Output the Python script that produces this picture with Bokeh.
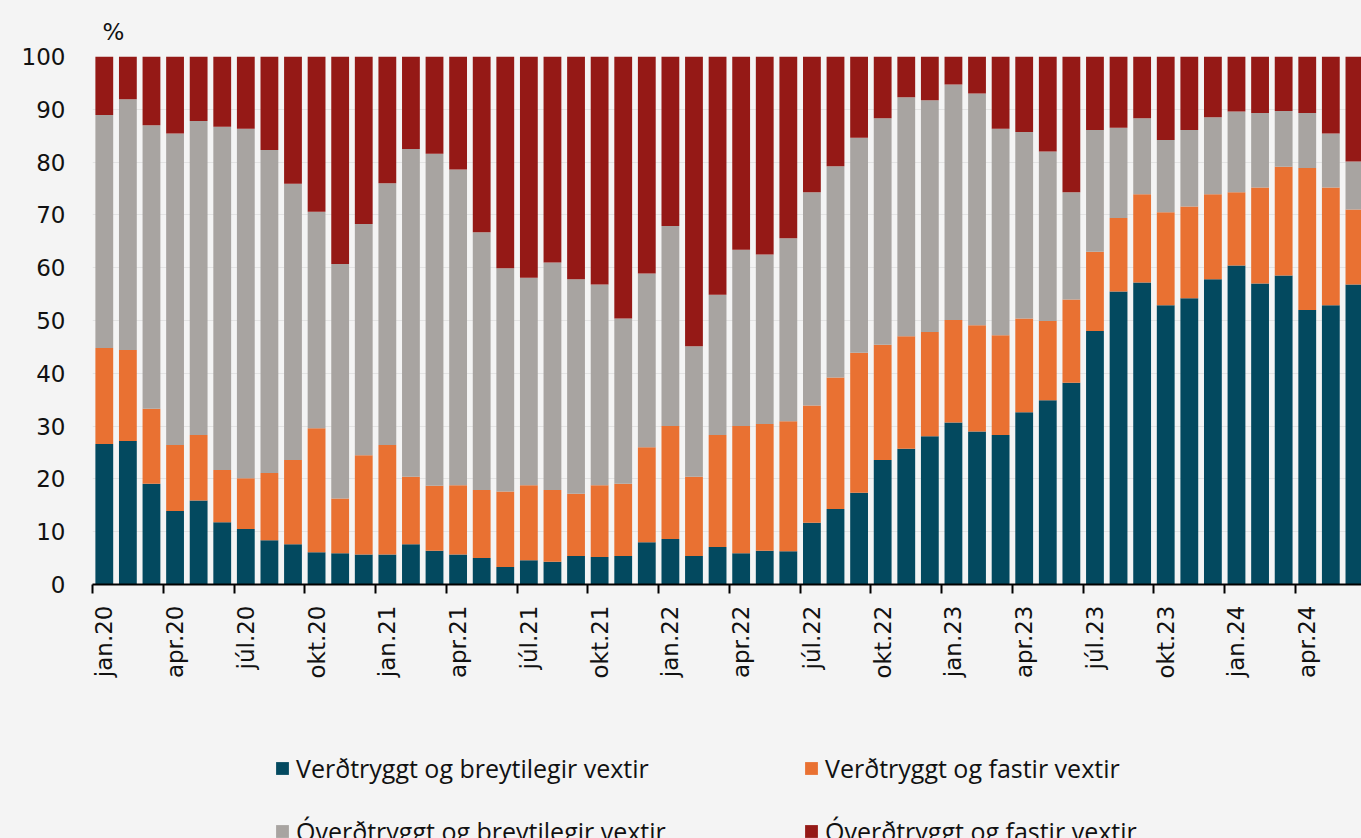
import math
import numpy as np
from bokeh.plotting import figure
from bokeh.layouts import column
from bokeh.models import ColumnDataSource, Range1d, FixedTicker, Legend, LegendItem
from bokeh.embed import file_html
from bokeh.resources import INLINE

# ---- data (percent shares, monthly jan.20 - jún.24) ----
month_names = ["jan", "feb", "mar", "apr", "maí", "jún", "júl", "ágú", "sep", "okt", "nóv", "des"]
months = [f"{month_names[i % 12]}.{20 + i // 12}" for i in range(54)]

verd_breyt = [26.6, 27.2, 19.1, 13.9, 15.9, 11.8, 10.5, 8.4, 7.6, 6.1, 5.9, 5.7,
              5.7, 7.6, 6.4, 5.7, 5.0, 3.3, 4.6, 4.3, 5.4, 5.2, 5.4, 8.0,
              8.6, 5.4, 7.1, 5.9, 6.4, 6.3, 11.7, 14.3, 17.4, 23.6, 25.7, 28.1,
              30.7, 29.0, 28.3, 32.6, 34.9, 38.2, 48.0, 55.5, 57.2, 52.9, 54.2, 57.8,
              60.4, 57.0, 58.5, 52.0, 52.9, 56.8]
verd_fast = [18.2, 17.2, 14.2, 12.5, 12.4, 9.9, 9.6, 12.7, 16.0, 23.5, 10.4, 18.8,
             20.7, 12.8, 12.3, 13.1, 12.9, 14.3, 14.2, 13.6, 11.8, 13.6, 13.7, 18.0,
             21.4, 15.0, 21.2, 24.1, 24.0, 24.6, 22.2, 24.9, 26.5, 21.8, 21.3, 19.7,
             19.4, 20.1, 18.9, 17.8, 15.0, 15.8, 15.0, 13.9, 16.7, 17.6, 17.4, 16.1,
             13.9, 18.2, 20.6, 26.9, 22.3, 14.2]
overd_breyt = [44.1, 47.5, 53.7, 59.0, 59.5, 65.0, 66.2, 61.2, 52.3, 41.0, 44.4, 43.8,
               49.6, 62.1, 62.9, 59.8, 48.8, 42.3, 39.3, 43.1, 40.6, 38.0, 31.3, 32.9,
               37.9, 24.7, 26.6, 33.4, 32.1, 34.7, 40.4, 40.0, 40.7, 42.9, 45.3, 43.9,
               44.6, 43.9, 39.1, 35.3, 32.1, 20.3, 23.1, 17.1, 14.4, 13.7, 14.5, 14.6,
               15.3, 14.1, 10.6, 10.4, 10.2, 9.1]
overd_fast = [11.1, 8.1, 13.0, 14.6, 12.2, 13.3, 13.7, 17.7, 24.1, 29.4, 39.3, 31.7,
              24.0, 17.5, 18.4, 21.4, 33.3, 40.1, 41.9, 39.0, 42.2, 43.2, 49.6, 41.1,
              32.1, 54.9, 45.1, 36.6, 37.5, 34.4, 25.7, 20.8, 15.4, 11.7, 7.7, 8.3,
              5.3, 7.0, 13.7, 14.3, 18.0, 25.7, 13.9, 13.5, 11.7, 15.8, 13.9, 11.5,
              10.4, 10.7, 10.3, 10.7, 14.6, 19.9]

series_names = ["Verðtryggt og breytilegir vextir", "Verðtryggt og fastir vextir",
                "Óverðtryggt og breytilegir vextir", "Óverðtryggt og fastir vextir"]
colors = ["#03495f", "#e97132", "#a8a4a1", "#951916"]

BG = "#f4f4f4"
FONT = "DejaVu Sans"
W = 1361
H_MAIN = 720
H_LEG = 118

src = ColumnDataSource(dict(x=list(range(len(months))), vb=verd_breyt, vf=verd_fast,
                            ob=overd_breyt, of=overd_fast))

p = figure(width=W, height=H_MAIN, output_backend="svg", toolbar_location=None,
           x_range=Range1d(-0.5, 53.3), y_range=Range1d(0, 100),
           min_border_left=92, min_border_right=0, min_border_top=56, min_border_bottom=136,
           background_fill_color=BG, border_fill_color=BG, outline_line_color=None)

p.vbar_stack(["vb", "vf", "ob", "of"], x="x", width=0.755, color=colors,
             line_color=None, source=src)

# title "%"
p.title.text = "%"
p.title.align = "left"
p.title.vertical_align = "top"
p.title.offset = 10
p.title.standoff = 20
p.title.text_font = FONT
p.title.text_font_size = "23px"
p.title.text_font_style = "normal"
p.title.text_color = "#111111"

# y axis
p.yaxis.ticker = FixedTicker(ticks=list(range(0, 101, 10)))
p.yaxis.axis_line_color = None
p.yaxis.major_tick_line_color = None
p.yaxis.minor_tick_line_color = None
p.yaxis.major_tick_out = 0
p.yaxis.major_tick_in = 0
p.yaxis.major_label_standoff = 27
p.yaxis.major_label_text_font = FONT
p.yaxis.major_label_text_font_size = "23px"
p.yaxis.major_label_text_color = "#111111"

# x axis
label_pos = list(range(0, len(months), 3))
p.xaxis.ticker = FixedTicker(ticks=label_pos, minor_ticks=[t - 0.5 for t in label_pos])
p.xaxis.major_label_overrides = {i: months[i] for i in label_pos}
p.xaxis.major_label_orientation = math.pi / 2
p.xaxis.major_tick_out = 0
p.xaxis.major_tick_in = 0
p.xaxis.minor_tick_out = 9
p.xaxis.minor_tick_in = 0
p.xaxis.minor_tick_line_color = "#000000"
p.xaxis.minor_tick_line_width = 2
p.xaxis.axis_line_color = "#000000"
p.xaxis.axis_line_width = 2
p.xaxis.major_label_standoff = 12
p.xaxis.major_label_text_font = FONT
p.xaxis.major_label_text_font_size = "23px"
p.xaxis.major_label_text_color = "#111111"

p.xgrid.visible = False
p.ygrid.grid_line_color = "#e3e3e3"
p.ygrid.grid_line_width = 1

# legend panel (separate figure under the chart; keys are hidden helper glyphs in the bar colours)
q = figure(width=W, height=H_LEG, output_backend="svg", toolbar_location=None,
           x_range=Range1d(0, W), y_range=Range1d(0, H_LEG),
           x_axis_type=None, y_axis_type=None,
           min_border_left=0, min_border_right=0, min_border_top=0, min_border_bottom=0,
           background_fill_color=BG, border_fill_color=BG, outline_line_color=None)
q.xgrid.visible = False
q.ygrid.visible = False
keys = [q.vbar(x=np.array([np.nan]), top=np.array([np.nan]), width=1, color=c, line_color=None)
        for c in colors]

def make_legend(idx, vy):
    return Legend(items=[LegendItem(label=series_names[i], renderers=[keys[i]]) for i in idx],
                  orientation="horizontal", location=(182, vy),
                  glyph_width=16, glyph_height=16, label_standoff=6,
                  label_width=470, spacing=37, padding=0, margin=0,
                  label_text_font="Open Sans", label_text_font_size="25px",
                  label_text_color="#111111",
                  border_line_color=None, background_fill_alpha=0)

q.add_layout(make_legend([0, 1], 53))
q.add_layout(make_legend([2, 3], -10))

layout = column(p, q, spacing=0, styles={"background-color": BG})
html = file_html(layout, INLINE)
html = html.replace("<body>", f'<body style="background-color:{BG};">', 1)
open("out.html", "w").write(html)
